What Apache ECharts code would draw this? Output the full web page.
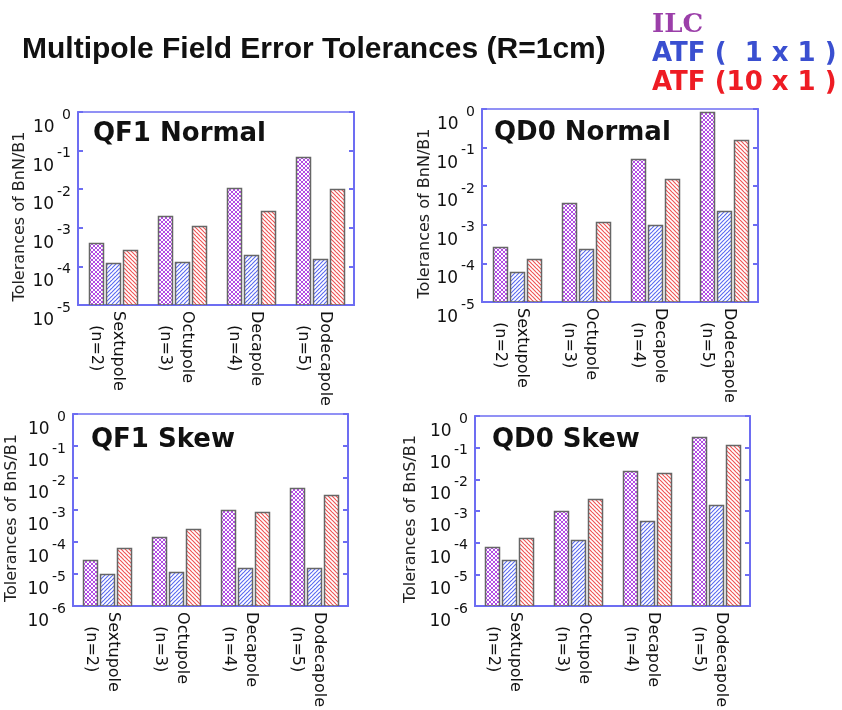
<!DOCTYPE html>
<html>
<head>
<meta charset="utf-8">
<script src="https://cdn.jsdelivr.net/npm/echarts@6/dist/echarts.min.js"></script>
<style>
  html, body { margin: 0; padding: 0; background: #fff; }
  #main { width: 842px; height: 710px; }
</style>
</head>
<body>
<div id="main"></div>
<script>
// Multipole order categories (x axis)
const categories = ['Sextupole', 'Octupole', 'Decapole', 'Dodecapole'];
const orders = ['(n=2)', '(n=3)', '(n=4)', '(n=5)'];
const seriesNames = ['ILC', 'ATF (  1 x 1 )', 'ATF (10 x 1 )'];

// QF1 normal tolerances (BnN/B1)
const qf1NormalILC   = [4.1e-4, 2.0e-3, 1.1e-2, 7.0e-2];
const qf1NormalATF1  = [1.25e-4, 1.3e-4, 1.95e-4, 1.55e-4];
const qf1NormalATF10 = [2.6e-4, 1.1e-3, 2.7e-3, 1.0e-2];

// QD0 normal tolerances (BnN/B1)
const qd0NormalILC   = [2.6e-4, 3.6e-3, 5.0e-2, 0.85];
const qd0NormalATF1  = [5.9e-5, 2.4e-4, 1.0e-3, 2.3e-3];
const qd0NormalATF10 = [1.3e-4, 1.2e-3, 1.55e-2, 0.155];

// QF1 skew tolerances (BnS/B1)
const qf1SkewILC   = [2.8e-5, 1.45e-4, 1.0e-3, 5.0e-3];
const qf1SkewATF1  = [9.8e-6, 1.18e-5, 1.55e-5, 1.55e-5];
const qf1SkewATF10 = [6.4e-5, 2.6e-4, 8.5e-4, 3.0e-3];

// QD0 skew tolerances (BnS/B1)
const qd0SkewILC   = [7.4e-5, 9.8e-4, 1.8e-2, 0.22];
const qd0SkewATF1  = [2.8e-5, 1.23e-4, 4.8e-4, 1.6e-3];
const qd0SkewATF10 = [1.38e-4, 2.4e-3, 1.6e-2, 0.123];

// Panel titles, axis names and lower log limits
const panelTitles = ['QF1 Normal', 'QD0 Normal', 'QF1 Skew', 'QD0 Skew'];
const panelYNames = ['Tolerances of BnN/B1', 'Tolerances of BnN/B1', 'Tolerances of BnS/B1', 'Tolerances of BnS/B1'];
const panelYMin = [1e-5, 1e-5, 1e-6, 1e-6];
const panelData = [
  [qf1NormalILC, qf1NormalATF1, qf1NormalATF10],
  [qd0NormalILC, qd0NormalATF1, qd0NormalATF10],
  [qf1SkewILC, qf1SkewATF1, qf1SkewATF10],
  [qd0SkewILC, qd0SkewATF1, qd0SkewATF10]
];

const AXIS_BLUE = '#6d6df2';
const FONT = 'DejaVu Sans';
const BAR_W = 14;     // bar width in px
const BAR_PITCH = 17; // distance between neighbouring bars in a group

// Hatch fills drawn on small repeating canvas tiles
function hatchTile(kind) {
  const c = document.createElement('canvas');
  c.width = 4; c.height = 4;
  const g = c.getContext('2d');
  g.fillStyle = '#ffffff';
  g.fillRect(0, 0, 4, 4);
  function diag(dir, color, w) {
    g.strokeStyle = color;
    g.lineWidth = w;
    g.beginPath();
    for (let k = -1; k <= 2; k++) {
      if (dir === '/') { g.moveTo(4 * k - 4, 4); g.lineTo(4 * k + 4, -4); }
      else { g.moveTo(4 * k - 4, -4); g.lineTo(4 * k + 4, 4); }
    }
    g.stroke();
  }
  if (kind === 'cross') {
    diag('/', '#b24ce4', 1.0);
    diag('\\', '#b24ce4', 1.0);
  } else if (kind === 'slash') {
    diag('/', '#5a6af0', 1.15);
  } else {
    diag('\\', '#f05454', 1.15);
  }
  return c;
}
const tiles = [hatchTile('cross'), hatchTile('slash'), hatchTile('back')];
const legendColors = ['#9b3fa9', '#3a4fd0', '#ee1c24'];

const grids = [
  { left: 78, top: 112, width: 276, height: 193 },
  { left: 482, top: 109, width: 276, height: 193 },
  { left: 73, top: 414, width: 275, height: 193 },
  { left: 475, top: 416, width: 275, height: 193 }
];
const nameGaps = [50, 45, 53, 56];
const titlePos = [[93, 121], [494, 120], [91, 427], [492, 427]];

const option = {
  backgroundColor: '#ffffff',
  animation: false,
  title: [
    {
      text: 'Multipole Field Error Tolerances (R=1cm)',
      left: 22, top: 35, padding: 0,
      textStyle: { fontFamily: 'Liberation Sans', fontWeight: 'bold', fontSize: 30, color: '#111' }
    }
  ].concat(panelTitles.map((t, i) => ({
    text: t, left: titlePos[i][0], top: titlePos[i][1], padding: 0,
    textStyle: { fontFamily: FONT, fontWeight: 'bold', fontSize: 26, color: '#111' }
  }))),
  legend: {
    orient: 'vertical',
    left: 647, top: 12,
    padding: 0,
    itemWidth: 0, itemHeight: 0, itemGap: 3,
    icon: 'rect',
    selectedMode: false,
    textStyle: { fontFamily: FONT, fontWeight: 'bold', fontSize: 26 },
    data: [
      { name: seriesNames[0], textStyle: { color: legendColors[0], fontFamily: 'DejaVu Serif', fontWeight: 'bold', fontSize: 26 } },
      { name: seriesNames[1], textStyle: { color: legendColors[1] } },
      { name: seriesNames[2], textStyle: { color: legendColors[2] } }
    ]
  },
  grid: grids.map(g => Object.assign({ show: true, borderColor: AXIS_BLUE, borderWidth: 1.5, backgroundColor: 'transparent' }, g)),
  xAxis: grids.map((g, i) => ({
    type: 'category',
    gridIndex: i,
    data: categories,
    axisLine: { lineStyle: { color: AXIS_BLUE, width: 2 } },
    axisTick: { show: false },
    axisLabel: {
      rotate: -90,
      margin: 6,
      interval: 0,
      padding: [10, 0, 0, 0],
      formatter: (v, idx) => '{a|' + v + '}\n{b|' + orders[idx] + '}',
      rich: {
        a: { fontFamily: FONT, fontSize: 16, color: '#111', lineHeight: 22 },
        b: { fontFamily: FONT, fontSize: 16, color: '#111', lineHeight: 22, padding: [0, 0, 0, 14] }
      }
    }
  })),
  yAxis: [],
  series: []
};

function expLabel(v) {
  const e = Math.round(Math.log10(v));
  return '{b|10}{s|' + (e === 0 ? ' 0' : String(e)) + '}';
}

// Bars rising from the bottom of the log axis, placed side by side in each category band
function barRenderer(seriesIdx, yMin) {
  return function (params, api) {
    const cat = api.value(0);
    const top = api.coord([cat, api.value(1)]);
    const base = api.coord([cat, yMin]);
    const cx = top[0] + (seriesIdx - 1) * BAR_PITCH;
    return {
      type: 'rect',
      shape: { x: Math.round(cx - BAR_W / 2) + 0.5, y: Math.round(top[1]) + 0.5, width: BAR_W, height: base[1] - Math.round(top[1]) - 0.5 },
      style: {
        fill: { type: 'pattern', image: tiles[seriesIdx], repeat: 'repeat' },
        stroke: '#666666',
        lineWidth: 1.5
      }
    };
  };
}

grids.forEach((g, i) => {
  const common = {
    type: 'log', logBase: 10, gridIndex: i,
    min: panelYMin[i], max: 1,
    splitLine: { show: false },
    minorTick: { show: false },
    axisTick: { show: true, inside: true, length: 5, lineStyle: { color: AXIS_BLUE, width: 2 } },
    axisLine: { show: true, lineStyle: { color: AXIS_BLUE, width: 2 } }
  };
  option.yAxis.push(Object.assign({}, common, {
    position: 'left',
    name: panelYNames[i],
    nameLocation: 'middle',
    nameGap: nameGaps[i],
    nameTextStyle: { fontFamily: FONT, fontSize: 16, color: '#222', padding: [0, 16, 0, 0] },
    axisLabel: {
      margin: 7,
      padding: [20, 0, 0, 0],
      formatter: expLabel,
      rich: {
        b: { fontFamily: FONT, fontSize: 17, color: '#111', verticalAlign: 'bottom', lineHeight: 28 },
        s: { fontFamily: FONT, fontSize: 14, color: '#111', verticalAlign: 'top', lineHeight: 28, padding: [0, 0, 0, 3] }
      }
    }
  }));
  option.yAxis.push(Object.assign({}, common, {
    position: 'right',
    axisLabel: { show: false }
  }));
  panelData[i].forEach((values, s) => {
    option.series.push({
      type: 'custom',
      name: seriesNames[s],
      xAxisIndex: i,
      yAxisIndex: 2 * i,
      itemStyle: { color: legendColors[s] },
      encode: { x: 0, y: 1 },
      data: values.map((v, k) => [k, v]),
      renderItem: barRenderer(s, panelYMin[i]),
      clip: true
    });
  });
});

const chart = echarts.init(document.getElementById('main'), null, { renderer: 'canvas' });
chart.setOption(option);
</script>
</body>
</html>
